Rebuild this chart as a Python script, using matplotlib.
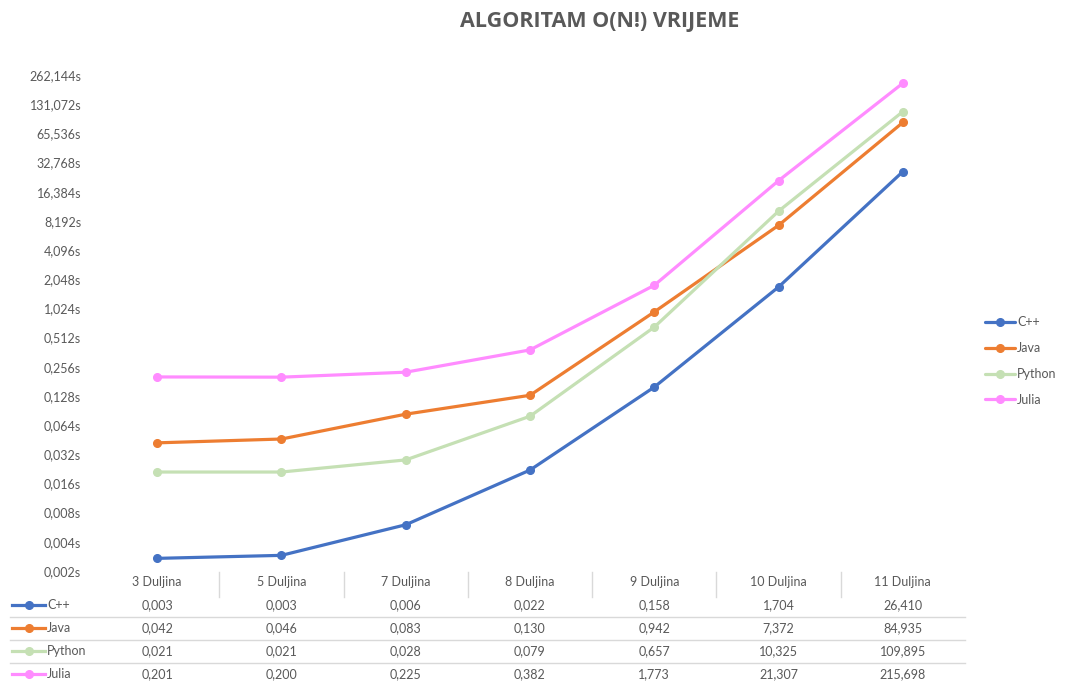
import matplotlib
matplotlib.use("Agg")
import matplotlib.pyplot as plt
from matplotlib.lines import Line2D
from matplotlib.ticker import FixedLocator, FuncFormatter
from matplotlib.transforms import blended_transform_factory

categories = ["3 Duljina", "5 Duljina", "7 Duljina", "8 Duljina",
              "9 Duljina", "10 Duljina", "11 Duljina"]
series_names = ["C++", "Java", "Python", "Julia"]
cpp = [0.0027, 0.0029, 0.006, 0.022, 0.158, 1.704, 26.410]
java = [0.042, 0.046, 0.083, 0.130, 0.942, 7.372, 84.935]
python = [0.021, 0.021, 0.028, 0.079, 0.657, 10.325, 109.895]
julia = [0.201, 0.200, 0.225, 0.382, 1.773, 21.307, 215.698]
colors = ["#4472C4", "#ED7D31", "#C5E0B4", "#FF8CFF"]
y_ticks = [0.002 * 2 ** k for k in range(18)]

TXT = "#595959"
plt.rcParams["font.family"] = ["Lato", "DejaVu Sans"]

W, H = 1068, 681
fig = plt.figure(figsize=(W / 100, H / 100), dpi=100)
left, right, top, bottom = 95, 965, 75, 571
ax = fig.add_axes([left / W, 1 - bottom / H, (right - left) / W, (bottom - top) / H])

xs = list(range(len(categories)))
all_series = [cpp, java, python, julia]
for name, vals, c in zip(series_names, all_series, colors):
    ax.plot(xs, vals, color=c, lw=2.3, marker="o", ms=5.5, label=name,
            solid_capstyle="round")

ax.set_yscale("log", base=2)
ax.set_ylim(y_ticks[0], y_ticks[-1])
ax.set_xlim(-0.5, len(categories) - 0.5)
ax.yaxis.set_major_locator(FixedLocator(y_ticks))
ax.yaxis.set_minor_locator(FixedLocator([]))
ax.yaxis.set_major_formatter(FuncFormatter(lambda v, p: f"{v:.3f}s".replace(".", ",")))
ax.tick_params(axis="y", length=0, pad=10, labelsize=9, labelcolor=TXT)
ax.set_xticks([])
for s in ax.spines.values():
    s.set_visible(False)

fig.text(600 / W, 1 - 22 / H, "ALGORITAM O(N!) VRIJEME", ha="center", va="center",
         fontsize=15.5, fontweight="bold", color=TXT, family=["Open Sans", "DejaVu Sans"])

# data table under the axis
bt = blended_transform_factory(ax.transData, ax.transAxes)
h = bottom - top
def fy(py):
    return (bottom - py) / h

for i, cat in enumerate(categories):
    ax.text(i, fy(582), cat, transform=bt, ha="center", va="center",
            fontsize=9, color=TXT, clip_on=False)
for i in range(1, len(categories)):
    ax.add_line(Line2D([i - 0.5, i - 0.5], [fy(572), fy(597)], transform=bt,
                       color="#D9D9D9", lw=1, clip_on=False))

row_y = [605, 628, 651, 674]
for r, (name, vals, c) in enumerate(zip(series_names, all_series, colors)):
    yy = fy(row_y[r])
    for i, v in enumerate(vals):
        ax.text(i, yy, f"{v:.3f}".replace(".", ","), transform=bt, ha="center",
                va="center", fontsize=9, color=TXT, clip_on=False)
    x0 = (12 - left) / (right - left)
    x1 = (45 - left) / (right - left)
    ax.add_line(Line2D([x0, x1], [yy, yy], transform=ax.transAxes, color=c,
                       lw=2.3, clip_on=False))
    ax.add_line(Line2D([(x0 + x1) / 2], [yy], transform=ax.transAxes, color=c,
                       marker="o", ms=5.5, clip_on=False))
    ax.text((47 - left) / (right - left), yy, name, transform=ax.transAxes,
            ha="left", va="center", fontsize=9, color=TXT, clip_on=False)
    if r > 0:
        ys = fy(row_y[r] - 11.5)
        ax.add_line(Line2D([(10 - left) / (right - left), 1.0], [ys, ys],
                           transform=ax.transAxes, color="#D9D9D9", lw=1,
                           clip_on=False))

leg = fig.legend(loc="center left", bbox_to_anchor=(982 / W, 1 - 361 / H),
                 frameon=False, fontsize=9, handlelength=2.4, handletextpad=0.2,
                 labelspacing=1.1, labelcolor=TXT, borderaxespad=0, borderpad=0.2)

fig.savefig("out.png", dpi=100, facecolor="white")
